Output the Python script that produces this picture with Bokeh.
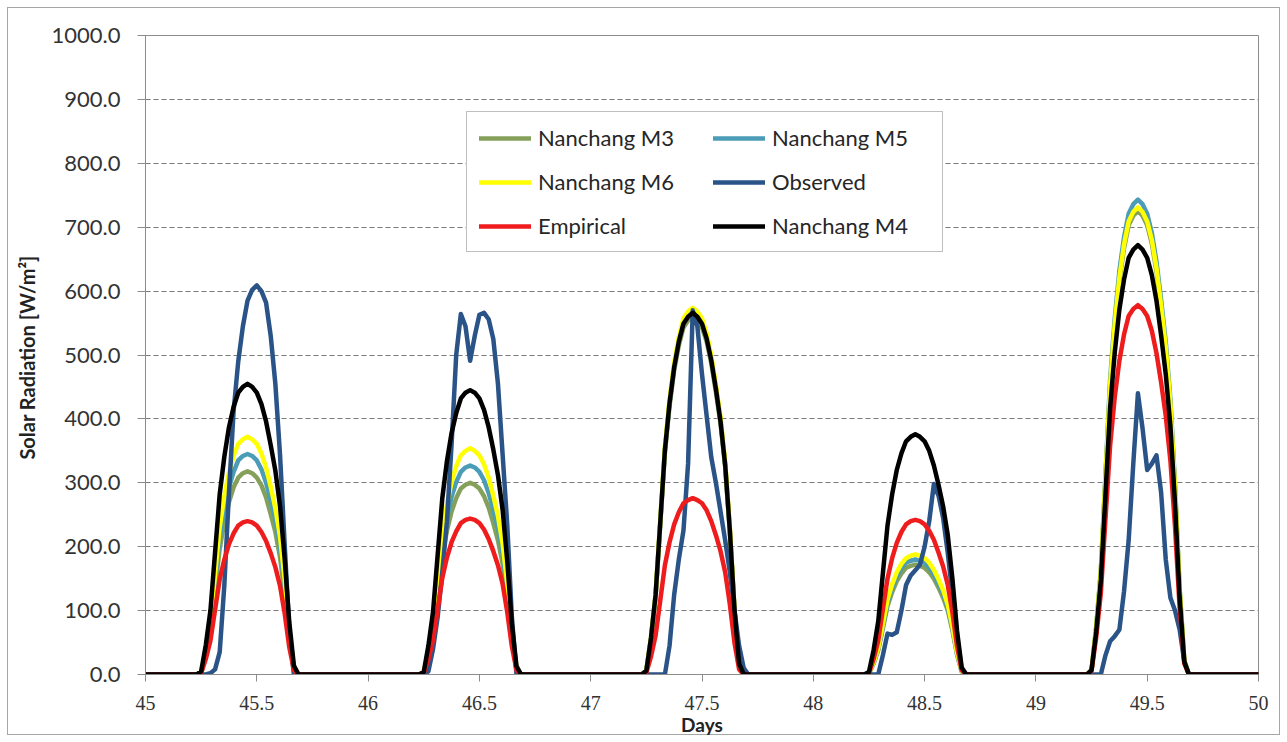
from bokeh.plotting import figure
from bokeh.models import Range1d, FixedTicker, NumeralTickFormatter, Legend, LegendItem
from bokeh.embed import file_html
from bokeh.resources import INLINE

# ---- data -------------------------------------------------------------
DAYS = [45, 46, 47, 48, 49]

# half-hourly samples (hour of day) used by every series
HOURS = [5, 5.5, 6, 6.5, 7, 7.5, 8, 8.5, 9, 9.5, 10, 10.5, 11, 11.5,
         12, 12.5, 13, 13.5, 14, 14.5, 15, 15.5, 16, 16.5, 17]

# solar radiation [W/m2], one list per day (days 45..49)
nanchang_m3 = [
    [0, 0, 3, 32, 70, 134, 197, 239, 270, 293, 308, 315, 318, 315, 308, 296, 277, 251, 223, 184, 127, 57, 10, 0, 0],
    [0, 0, 3, 30, 66, 126, 186, 225, 255, 276, 291, 297, 300, 297, 291, 279, 261, 237, 210, 174, 120, 54, 9, 0, 0],
    [0, 0, 6, 56, 123, 235, 347, 420, 476, 515, 543, 554, 560, 554, 543, 521, 487, 442, 392, 325, 224, 101, 17, 0, 0],
    [0, 0, 2, 17, 38, 72, 107, 129, 146, 158, 167, 170, 172, 170, 167, 160, 150, 136, 120, 100, 69, 31, 5, 0, 0],
    [0, 0, 7, 73, 160, 305, 450, 544, 616, 667, 703, 718, 725, 718, 703, 674, 631, 573, 508, 421, 290, 131, 22, 0, 0],
]
nanchang_m5 = [
    [0, 0, 3, 35, 76, 145, 214, 259, 293, 317, 335, 342, 345, 342, 335, 321, 300, 273, 242, 200, 138, 62, 10, 0, 0],
    [0, 0, 3, 33, 72, 137, 203, 245, 278, 301, 317, 324, 327, 324, 317, 304, 284, 258, 229, 190, 131, 59, 10, 0, 0],
    [0, 0, 6, 57, 125, 239, 352, 426, 483, 523, 551, 562, 568, 562, 551, 528, 494, 449, 398, 329, 227, 102, 17, 0, 0],
    [0, 0, 2, 18, 40, 76, 112, 135, 153, 166, 175, 178, 180, 178, 175, 167, 157, 142, 126, 104, 72, 32, 5, 0, 0],
    [0, 0, 7, 74, 163, 312, 461, 557, 632, 684, 721, 736, 743, 736, 721, 691, 646, 587, 520, 431, 297, 134, 22, 0, 0],
]
nanchang_m6 = [
    [0, 0, 4, 37, 82, 156, 231, 279, 316, 342, 361, 368, 372, 368, 361, 346, 324, 294, 260, 216, 149, 67, 11, 0, 0],
    [0, 0, 4, 35, 78, 149, 219, 266, 301, 326, 343, 350, 354, 350, 343, 329, 308, 280, 248, 205, 142, 64, 11, 0, 0],
    [0, 0, 6, 57, 126, 241, 356, 431, 488, 528, 557, 568, 574, 568, 557, 534, 499, 453, 402, 333, 230, 103, 17, 0, 0],
    [0, 0, 2, 19, 41, 79, 117, 141, 160, 173, 182, 186, 188, 186, 182, 175, 164, 149, 132, 109, 75, 34, 6, 0, 0],
    [0, 0, 7, 73, 161, 307, 453, 548, 621, 673, 709, 724, 731, 724, 709, 680, 636, 577, 512, 424, 292, 132, 22, 0, 0],
]
empirical = [
    [0, 0, 2, 24, 53, 101, 149, 180, 204, 221, 233, 238, 240, 238, 233, 223, 209, 190, 168, 139, 96, 43, 7, 0, 0],
    [0, 0, 2, 24, 54, 102, 151, 183, 207, 224, 237, 242, 244, 242, 237, 227, 212, 193, 171, 142, 98, 44, 7, 0, 0],
    [0, 0, 3, 28, 61, 116, 171, 207, 235, 254, 268, 273, 276, 273, 268, 257, 240, 218, 193, 160, 110, 50, 8, 0, 0],
    [0, 0, 2, 24, 53, 102, 150, 182, 206, 223, 235, 240, 242, 240, 235, 225, 211, 191, 169, 140, 97, 44, 7, 0, 0],
    [0, 0, 6, 58, 127, 243, 358, 434, 491, 532, 561, 572, 578, 572, 561, 538, 503, 457, 405, 335, 231, 104, 17, 0, 0],
]
nanchang_m4 = [
    [0, 0, 5, 46, 100, 191, 282, 341, 387, 419, 441, 450, 455, 450, 441, 423, 396, 359, 319, 264, 182, 82, 14, 0, 0],
    [0, 0, 4, 45, 98, 187, 276, 334, 378, 409, 432, 441, 445, 441, 432, 414, 387, 352, 312, 258, 178, 80, 13, 0, 0],
    [0, 0, 6, 57, 125, 238, 351, 425, 481, 521, 549, 560, 566, 560, 549, 526, 492, 447, 396, 328, 226, 102, 17, 0, 0],
    [0, 0, 4, 38, 83, 158, 233, 282, 320, 346, 365, 372, 376, 372, 365, 350, 327, 297, 263, 218, 150, 68, 11, 0, 0],
    [0, 0, 7, 67, 148, 282, 417, 504, 571, 618, 652, 665, 672, 665, 652, 625, 585, 531, 470, 390, 269, 121, 20, 0, 0],
]
observed = [
    [0, 0, 0, 0, 2, 8, 35, 140, 285, 413, 490, 545, 585, 602, 609, 600, 582, 530, 455, 345, 205, 70, 0, 0, 0],
    [0, 0, 0, 5, 40, 90, 160, 240, 360, 500, 564, 545, 491, 530, 563, 566, 556, 525, 455, 345, 235, 90, 0, 0, 0],
    [0, 0, 0, 0, 0, 0, 0, 45, 125, 180, 225, 330, 570, 545, 470, 405, 340, 300, 255, 210, 160, 100, 45, 10, 0],
    [0, 0, 0, 0, 0, 30, 64, 62, 66, 100, 140, 155, 163, 172, 200, 240, 298, 280, 245, 190, 125, 60, 8, 0, 0],
    [0, 0, 0, 0, 0, 30, 52, 60, 70, 130, 210, 330, 440, 385, 320, 330, 343, 285, 180, 120, 100, 70, 20, 0, 0],
]

X_TICKS = [45, 45.5, 46, 46.5, 47, 47.5, 48, 48.5, 49, 49.5, 50]
Y_TICKS = [0, 100, 200, 300, 400, 500, 600, 700, 800, 900, 1000]
GRID_TICKS = [100, 200, 300, 400, 500, 600, 700, 800, 900]


def to_series(per_day):
    """Flatten per-day samples into one continuous time axis in days."""
    t, v = [45.0], [0.0]
    for day, vals in zip(DAYS, per_day):
        for h, val in zip(HOURS, vals):
            t.append(day + h / 24.0)
            v.append(val)
    t.append(50.0)
    v.append(0.0)
    return t, v


# ---- figure -----------------------------------------------------------
p = figure(width=1287, height=742, output_backend="svg", toolbar_location=None,
           x_range=Range1d(45, 50), y_range=Range1d(0, 1000),
           min_border_left=145, min_border_right=29,
           min_border_top=35, min_border_bottom=68)
p.background_fill_color = "white"
p.border_fill_alpha = 0
p.outline_line_color = "#8c8c8c"
p.outline_line_width = 1
# thin grey frame round the whole chart area
p.styles = {"background-color": "white",
            "box-shadow": "inset 0 0 0 7px white, inset 0 0 0 8px #a6a6a6"}

GREY = "#8c8c8c"
TXT = "#333333"

# x axis
xa = p.xaxis[0]
xa.ticker = FixedTicker(ticks=X_TICKS)
xa.formatter = NumeralTickFormatter(format="0.[0]")
xa.axis_line_color = GREY
xa.major_tick_line_color = GREY
xa.major_tick_out = 7
xa.major_tick_in = 0
xa.minor_tick_line_color = None
xa.major_label_standoff = 14
xa.major_label_text_font = "Liberation Sans Narrow"
xa.major_label_text_font_size = "20px"
xa.major_label_text_color = TXT
xa.axis_label = "Days"
xa.axis_label_text_font = "Lato"
xa.axis_label_text_font_style = "bold"
xa.axis_label_text_font_size = "19px"
xa.axis_label_text_color = "#222222"
xa.axis_label_standoff = 0

# y axis
ya = p.yaxis[0]
ya.ticker = FixedTicker(ticks=Y_TICKS)
ya.formatter = NumeralTickFormatter(format="0.0")
ya.axis_line_color = GREY
ya.major_tick_line_color = GREY
ya.major_tick_out = 8
ya.major_tick_in = 0
ya.minor_tick_line_color = None
ya.major_label_standoff = 17
ya.major_label_text_font = "Lato"
ya.major_label_text_font_size = "22px"
ya.major_label_text_color = TXT
ya.axis_label = "Solar Radiation  [W/m\u00b2]"
ya.axis_label_text_font = "Lato"
ya.axis_label_text_font_style = "bold"
ya.axis_label_text_font_size = "20px"
ya.axis_label_text_color = "#222222"
ya.axis_label_standoff = 10

# dashed horizontal gridlines only
p.xgrid.visible = False
p.ygrid.ticker = FixedTicker(ticks=GRID_TICKS)
p.ygrid.grid_line_color = "#7a7a7a"
p.ygrid.grid_line_dash = "5 3"
p.ygrid.grid_line_width = 1

# ---- series (drawn in legend order, M4 on top) ------------------------
LW = 4.5
series = [
    ("Nanchang M3", nanchang_m3, "#85a05a"),
    ("Nanchang M5", nanchang_m5, "#4b9cb6"),
    ("Nanchang M6", nanchang_m6, "#ffff00"),
    ("Observed", observed, "#2a5388"),
    ("Empirical", empirical, "#ee1c1c"),
    ("Nanchang M4", nanchang_m4, "#000000"),
]
renderers = {}
for name, data, color in series:
    t, v = to_series(data)
    renderers[name] = p.line(t, v, line_color=color, line_width=LW,
                             line_join="round", line_cap="round")

legend = Legend(
    items=[LegendItem(label=n, renderers=[renderers[n]]) for n in
           ["Nanchang M3", "Nanchang M5", "Nanchang M6", "Observed",
            "Empirical", "Nanchang M4"]],
    orientation="horizontal", ncols=2,
    location=(321, 422),
    padding=12, spacing=17, margin=0,
    glyph_width=52, glyph_height=20, label_standoff=7, label_width=158,
    label_text_font="Lato", label_text_font_size="22px",
    label_text_color="#262626",
    border_line_color="#7f7f7f", border_line_width=1,
    background_fill_color="white", background_fill_alpha=1.0,
)
p.add_layout(legend)

open("out.html", "w").write(file_html(p, INLINE))
